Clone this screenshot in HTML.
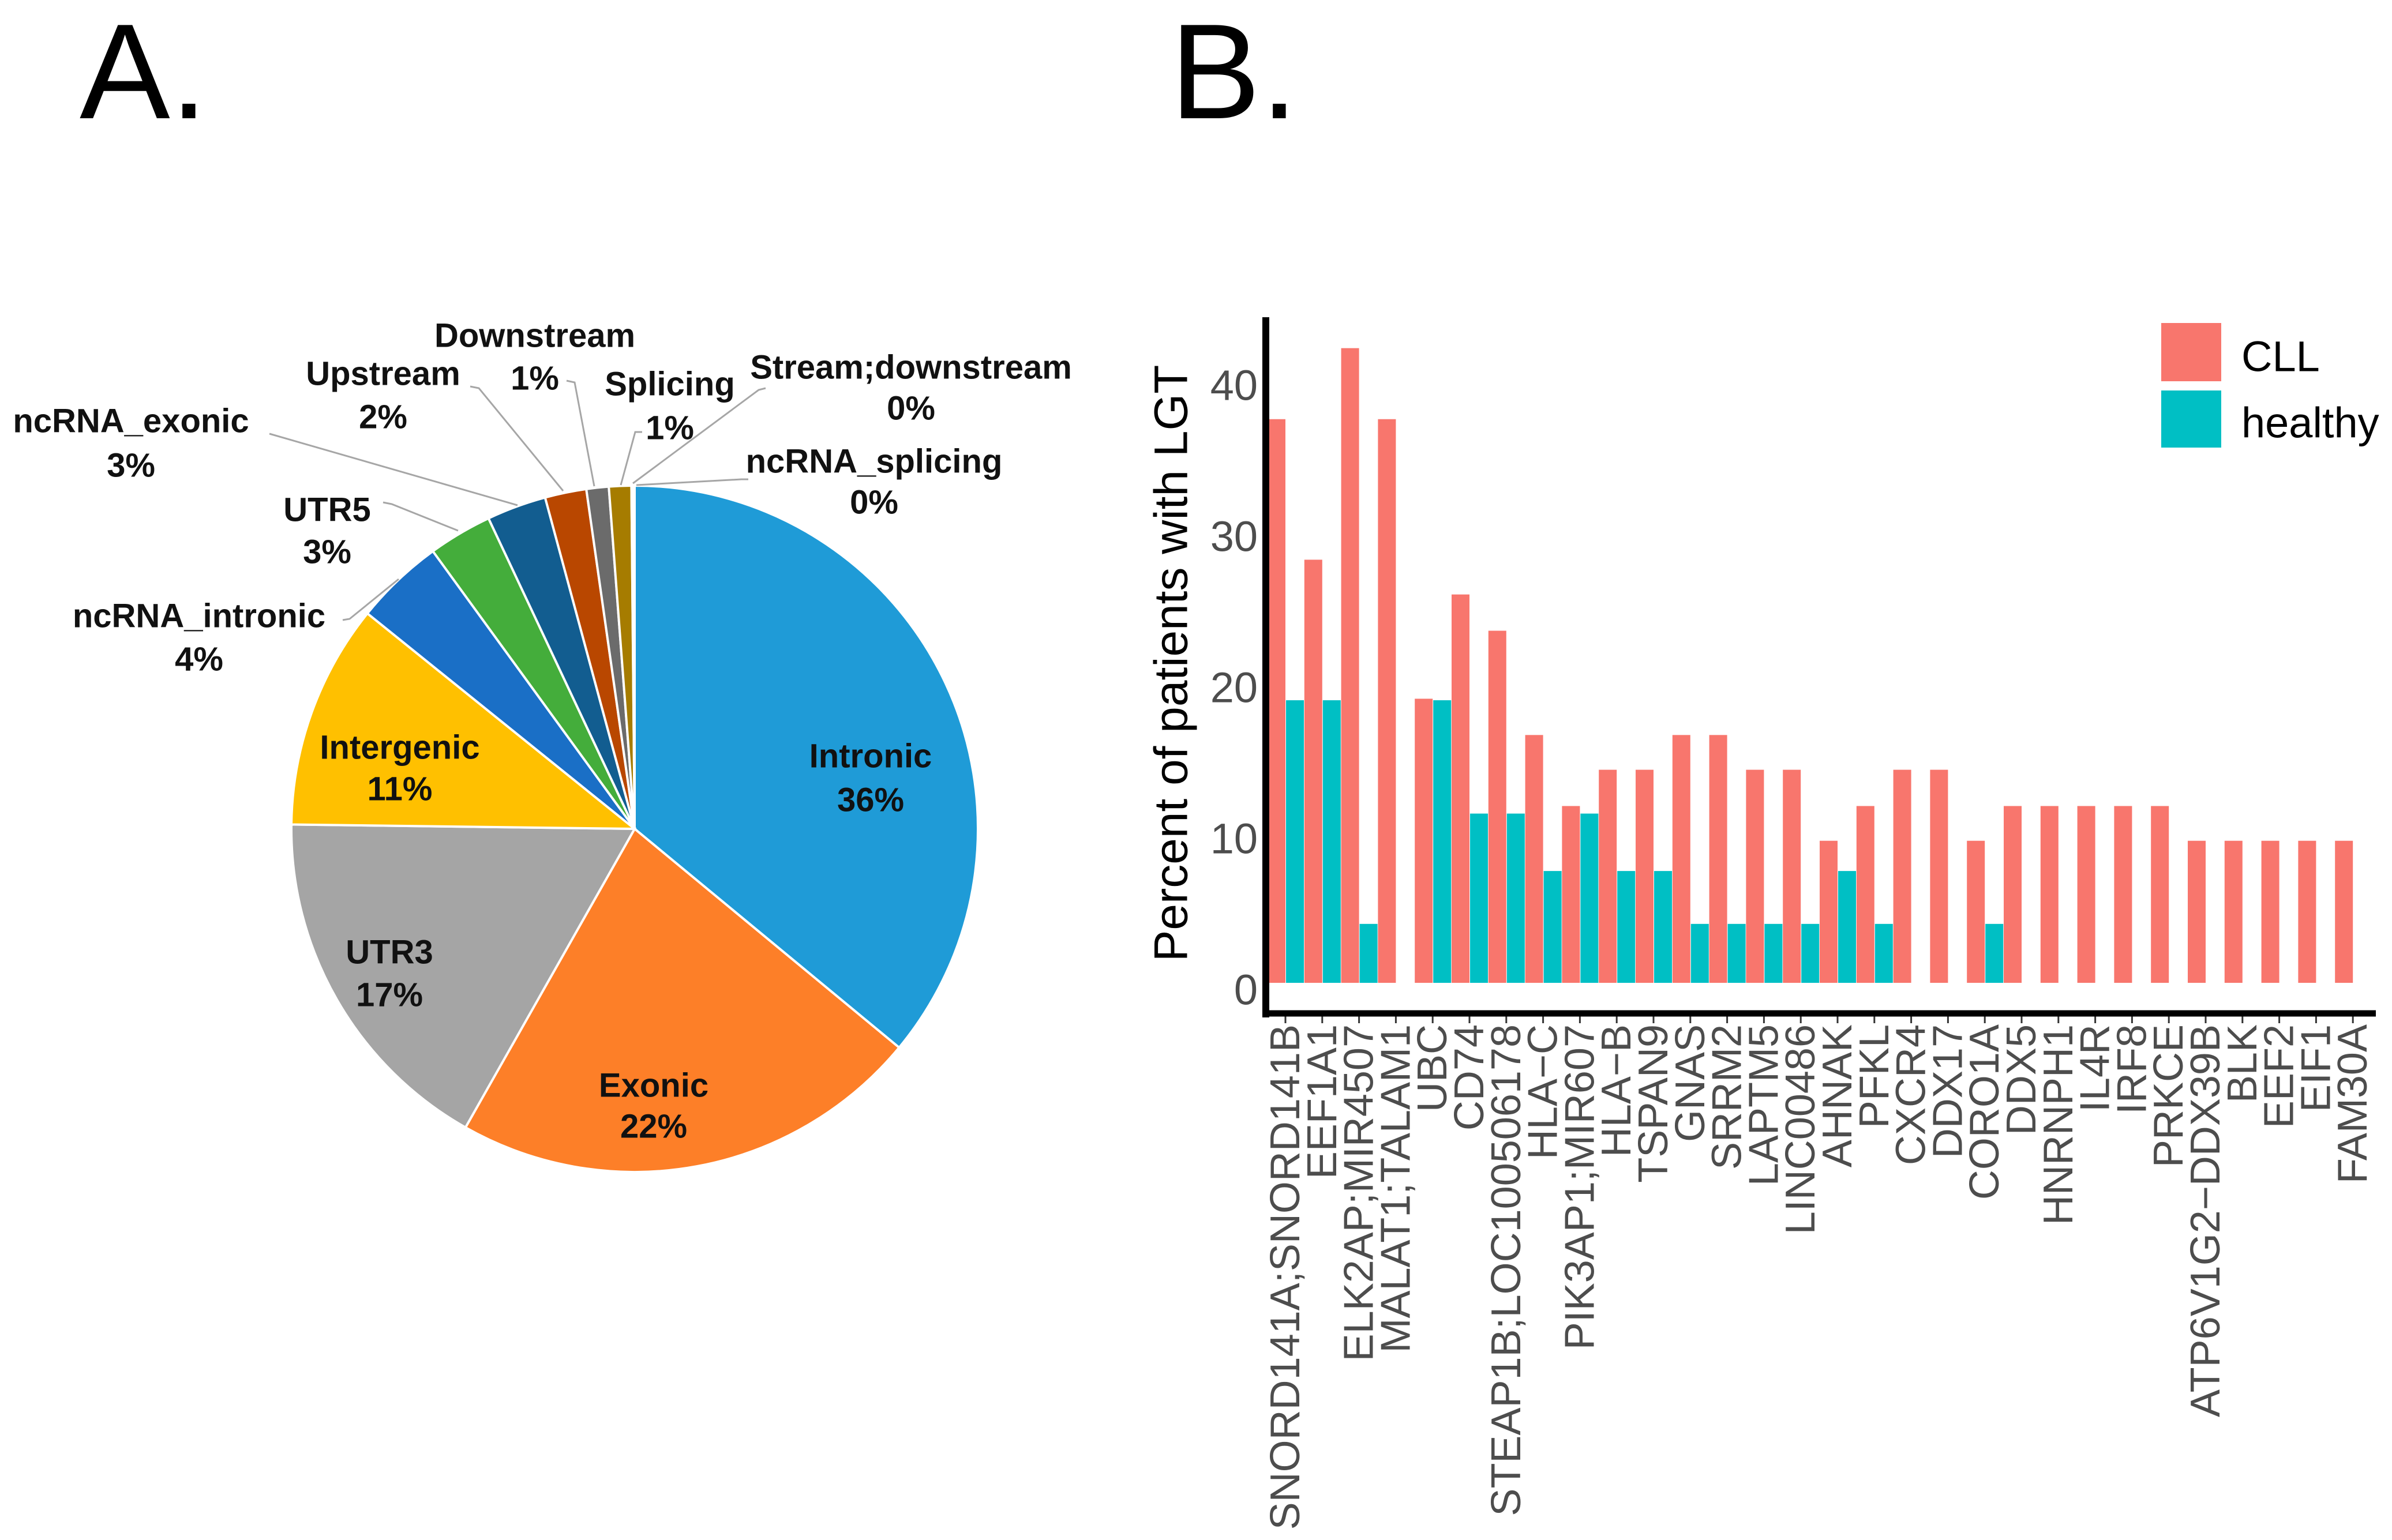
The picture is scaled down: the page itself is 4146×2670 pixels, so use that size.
<!DOCTYPE html>
<html><head><meta charset="utf-8"><style>
html,body{margin:0;padding:0;background:#fff;}
svg{display:block;font-family:"Liberation Sans",sans-serif;}
</style></head><body>
<svg id="fig" width="4146" height="2670" viewBox="0 0 4146 2670" xmlns="http://www.w3.org/2000/svg">
<text x="138" y="205" font-size="235" fill="#000">A.</text>
<text x="2028" y="205" font-size="235" fill="#000">B.</text>
<g id="pie"></g>
<g id="bars"></g>
</svg>
<script>
const NS="http://www.w3.org/2000/svg";
// ---- Pie data ----
const pieLabels=["Intronic","Exonic","UTR3","Intergenic","ncRNA_intronic","UTR5","ncRNA_exonic","Upstream","Downstream","Splicing","Stream;downstream","ncRNA_splicing"];
const pieValues=[36.0,22.2,17.0,10.6,4.2,3.0,2.8,1.95,1.05,1.05,0.1,0.05];
const pieText=["36%","22%","17%","11%","4%","3%","3%","2%","1%","1%","0%","0%"];
// ---- Bar data ----
const genes=["SNORD141A;SNORD141B","EEF1A1","ELK2AP;MIR4507","MALAT1;TALAM1","UBC","CD74","STEAP1B;LOC100506178","HLA−C","PIK3AP1;MIR607","HLA−B","TSPAN9","GNAS","SRRM2","LAPTM5","LINC00486","AHNAK","PFKL","CXCR4","DDX17","CORO1A","DDX5","HNRNPH1","IL4R","IRF8","PRKCE","ATP6V1G2−DDX39B","BLK","EEF2","EIF1","FAM30A"];
const cllValues=[37.3,28.0,42.0,37.3,18.8,25.7,23.3,16.4,11.7,14.1,14.1,16.4,16.4,14.1,14.1,9.4,11.7,14.1,14.1,9.4,11.7,11.7,11.7,11.7,11.7,9.4,9.4,9.4,9.4,9.4];
const healthyValues=[18.7,18.7,3.9,0,18.7,11.2,11.2,7.4,11.2,7.4,7.4,3.9,3.9,3.9,3.9,7.4,3.9,0,0,3.9,0,0,0,0,0,0,0,0,0,0];
const yTicks=[0,10,20,30,40];

function mk(tag,attrs,parent){const e=document.createElementNS(NS,tag);for(const k in attrs)e.setAttribute(k,attrs[k]);parent.appendChild(e);return e;}

// ---- Pie ----
const pie=document.getElementById('pie');
const cx=1100,cy=1437,R=595;
const pieColors=["#1F9BD7","#FD7F28","#A5A5A5","#FFC000","#1A6FC6","#44AD3B","#125D90","#B94700","#6B6B6B","#A67C00","#4472C4","#7F7F7F"];
const labelPos=[[1509,1311,1387],[1133,1882,1953],[675,1651,1725],[693,1296,1368],[345,1068,1143],[567,884,957],[227,730,807],[664,648,723],[927,582,656],[1161,666,742],[1579,637,708],[1515,800,871]];
const leaders=[null,null,null,null,
 "594,1075 606,1073 691,1004","664,871 679,874 794,920","467,752 897,876","815,670 830,673 976,851",
 "982,660 996,663 1030,843","1113,749 1101,749 1076,841","1327,673 1315,676 1097,838","1297,831 1285,831 1103,841"];
const tot=pieValues.reduce((a,b)=>a+b,0);
let ang=0;
pieValues.forEach((v,i)=>{
  const a0=ang, a1=ang+v/tot*2*Math.PI; ang=a1;
  const x0=cx+R*Math.sin(a0), y0=cy-R*Math.cos(a0), x1=cx+R*Math.sin(a1), y1=cy-R*Math.cos(a1);
  const large=(a1-a0)>Math.PI?1:0;
  const p=mk('path',{d:`M${cx},${cy} L${x0},${y0} A${R},${R} 0 ${large} 1 ${x1},${y1} Z`,fill:pieColors[i],stroke:"#fff","stroke-width":4},pie);
  
  
});
pieValues.forEach((v,i)=>{
  if(leaders[i]){const l=mk('polyline',{points:leaders[i],fill:"none",stroke:"#A6A6A6","stroke-width":3},pie);
    
    }
  const lp=labelPos[i];
  const t1=mk('text',{x:lp[0],y:lp[1],"text-anchor":"middle","dominant-baseline":"central","font-size":58,"font-weight":"bold",fill:"#111"},pie);
  t1.textContent=pieLabels[i];
  
  
  const t2=mk('text',{x:lp[0],y:lp[2],"text-anchor":"middle","dominant-baseline":"central","font-size":58,"font-weight":"bold",fill:"#111"},pie);
  t2.textContent=pieText[i];
  
  
});

// ---- Bars ----
const bars=document.getElementById('bars');
const y0px=1704, pxPerUnit=26.2;
const yS=v=>y0px-v*pxPerUnit;
const x0tick=2228, band=63.8, bw=31;
const xS=i=>x0tick+i*band;
yTicks.forEach(t=>{
  const tl=mk('text',{x:2180,y:yS(t)+12,"text-anchor":"end","dominant-baseline":"central","font-size":74,fill:"#4d4d4d"},bars);
  tl.textContent=t;
  
  
});
genes.forEach((g,i)=>{
  const x=xS(i);
  const c=mk('rect',{x:x-bw,y:yS(cllValues[i]),width:bw,height:cllValues[i]*pxPerUnit,fill:"#F8766D"},bars);
  
  
  if(healthyValues[i]>0){
    const h=mk('rect',{x:x+1,y:yS(healthyValues[i]),width:bw,height:healthyValues[i]*pxPerUnit,fill:"#00BFC4"},bars);
    
    
  }
  const tk=mk('line',{x1:x,y1:1760,x2:x,y2:1774,stroke:"#333","stroke-width":3},bars);
  
  
  const tl=mk('text',{x:0,y:0,"text-anchor":"end","dominant-baseline":"central","font-size":72,fill:"#4d4d4d",transform:`translate(${x},1776) rotate(-90)`},bars);
  tl.textContent=g;
  
  
});
const ya=mk('line',{x1:2194,y1:550,x2:2194,y2:1764,stroke:"#000","stroke-width":12},bars);


const xa=mk('line',{x1:2188,y1:1757,x2:4118,y2:1757,stroke:"#000","stroke-width":11},bars);


const yt=mk('text',{x:0,y:0,"text-anchor":"middle","dominant-baseline":"central","font-size":82,fill:"#000",transform:"translate(2030,1150) rotate(-90)"},bars);
yt.textContent="Percent of patients with LGT";


// legend
const lg=mk('g',{},bars);


const s1=mk('rect',{x:3746,y:560,width:104,height:101,fill:"#F8766D"},lg);


const s2=mk('rect',{x:3746,y:677,width:104,height:99,fill:"#00BFC4"},lg);


const l1=mk('text',{x:3885,y:618,"dominant-baseline":"central","font-size":74,fill:"#000"},lg);
l1.textContent="CLL";


const l2=mk('text',{x:3885,y:733,"dominant-baseline":"central","font-size":74,fill:"#000"},lg);
l2.textContent="healthy";


</script>
</body></html>
